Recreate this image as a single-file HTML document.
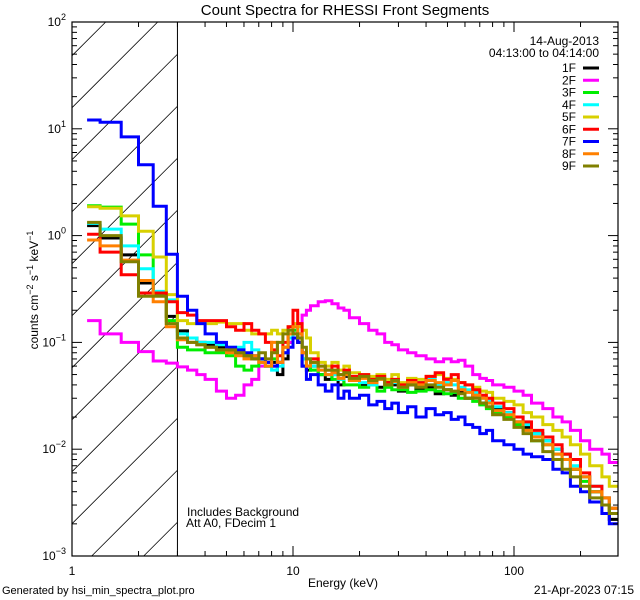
<!DOCTYPE html>
<html><head><meta charset="utf-8"><style>
html,body{margin:0;padding:0;background:#fff;width:640px;height:600px;overflow:hidden}
svg{display:block;font-family:"Liberation Sans",sans-serif}
</style></head><body>
<svg id="chart" width="640" height="600" viewBox="0 0 640 600" overflow="hidden">
<rect width="640" height="600" fill="#fff"/>
<text x="345" y="15" font-size="15" text-anchor="middle">Count Spectra for RHESSI Front Segments</text>
<g id="hatch"></g>
<g id="series"></g>
<g id="axes"></g>
<text transform="translate(38,290) rotate(-90)" font-size="12" text-anchor="middle">counts cm<tspan dy="-5" font-size="9">−2</tspan><tspan dy="5"> s</tspan><tspan dy="-5" font-size="9">−1</tspan><tspan dy="5"> keV</tspan><tspan dy="-5" font-size="9">−1</tspan></text>
<text x="343" y="587" font-size="12" text-anchor="middle">Energy (keV)</text>
<text x="187" y="516" font-size="12">Includes Background</text>
<text x="186" y="527" font-size="12">Att A0, FDecim 1</text>
<text x="2" y="594" font-size="11">Generated by hsi_min_spectra_plot.pro</text>
<text x="634" y="594" font-size="12" text-anchor="end">21-Apr-2023 07:15</text>
<text x="599" y="45" font-size="12" text-anchor="end">14-Aug-2013</text>
<text x="599" y="57" font-size="12" text-anchor="end">04:13:00 to 04:14:00</text>
<g id="legend"></g>
</svg>
<script>
const edges=[1.17,1.34,1.67,2.0,2.33,2.67,3.0,3.33,3.67,4.0,4.5,5.0,5.5,6.0,6.5,7.0,7.5,8.0,8.5,9.0,9.5,10.0,10.5,11,11.5,12,13,14,15,16,17,18,20,22,24,26,28,30,33,36,40,44,48,52,56,60,65,70,75,80,90,100,110,120,135,150,165,180,200,220,250,270,296];
const seriesNames=["1F","2F","3F","4F","5F","6F","7F","8F","9F"];
const seriesColors=["#000000","#ff00ff","#00ee00","#00ffff","#d8d000","#ff0000","#0000ff","#ff8000","#808000"];
const s1F=[1.24,0.95,0.66,0.36,0.29,0.175,0.128,0.11,0.1,0.095,0.09,0.085,0.08,0.075,0.07,0.07,0.06,0.065,0.05,0.07,0.1,0.12,0.1,0.06,0.055,0.06,0.05,0.045,0.05,0.04,0.048,0.045,0.04,0.045,0.038,0.042,0.04,0.035,0.04,0.036,0.038,0.033,0.036,0.032,0.034,0.03,0.032,0.027,0.028,0.024,0.022,0.018,0.016,0.014,0.012,0.01,0.009,0.0065,0.0055,0.004,0.003,0.0022];
const s2F=[0.16,0.12,0.1,0.082,0.067,0.064,0.059,0.055,0.05,0.045,0.035,0.03,0.032,0.04,0.045,0.06,0.065,0.06,0.065,0.08,0.1,0.12,0.15,0.18,0.2,0.22,0.24,0.245,0.23,0.21,0.2,0.17,0.15,0.13,0.12,0.1,0.095,0.085,0.08,0.075,0.07,0.066,0.07,0.066,0.068,0.06,0.05,0.046,0.044,0.04,0.038,0.035,0.032,0.027,0.024,0.02,0.018,0.015,0.012,0.01,0.009,0.0075];
const s3F=[1.9,1.85,1.28,0.66,0.28,0.16,0.09,0.085,0.085,0.08,0.08,0.075,0.06,0.055,0.06,0.065,0.06,0.07,0.065,0.09,0.12,0.13,0.11,0.07,0.06,0.055,0.05,0.05,0.045,0.045,0.04,0.04,0.038,0.04,0.035,0.038,0.036,0.036,0.034,0.035,0.036,0.035,0.033,0.034,0.03,0.03,0.028,0.026,0.024,0.022,0.02,0.017,0.015,0.012,0.011,0.009,0.008,0.0065,0.005,0.004,0.003,0.0025];
const s4F=[1.3,1.15,0.8,0.49,0.3,0.25,0.12,0.11,0.1,0.1,0.095,0.09,0.09,0.1,0.085,0.07,0.06,0.055,0.06,0.08,0.11,0.14,0.12,0.07,0.06,0.06,0.055,0.05,0.05,0.045,0.05,0.045,0.042,0.04,0.045,0.04,0.042,0.038,0.045,0.042,0.045,0.04,0.042,0.04,0.038,0.036,0.034,0.03,0.028,0.025,0.022,0.02,0.017,0.014,0.012,0.01,0.009,0.007,0.0055,0.0045,0.0035,0.0028];
const s5F=[1.86,1.8,1.53,1.1,0.63,0.28,0.16,0.15,0.15,0.15,0.155,0.15,0.15,0.13,0.12,0.12,0.12,0.13,0.12,0.13,0.14,0.15,0.14,0.13,0.11,0.08,0.065,0.06,0.065,0.055,0.06,0.052,0.05,0.048,0.05,0.045,0.05,0.042,0.046,0.045,0.048,0.05,0.046,0.045,0.042,0.04,0.038,0.035,0.034,0.03,0.028,0.026,0.022,0.02,0.017,0.015,0.013,0.011,0.009,0.007,0.0055,0.0045];
const s6F=[1.03,0.7,0.43,0.29,0.29,0.24,0.19,0.18,0.16,0.16,0.16,0.14,0.13,0.15,0.13,0.12,0.1,0.085,0.075,0.1,0.14,0.2,0.15,0.08,0.07,0.07,0.06,0.055,0.06,0.05,0.055,0.048,0.05,0.045,0.048,0.042,0.045,0.04,0.044,0.042,0.048,0.052,0.045,0.05,0.042,0.04,0.036,0.032,0.03,0.027,0.024,0.02,0.018,0.015,0.013,0.011,0.009,0.008,0.006,0.0045,0.0035,0.0028];
const s7F=[12.1,11.5,8.4,4.6,1.88,0.67,0.27,0.2,0.15,0.12,0.1,0.09,0.085,0.08,0.075,0.07,0.065,0.06,0.065,0.08,0.09,0.11,0.1,0.06,0.045,0.05,0.04,0.035,0.04,0.03,0.035,0.03,0.032,0.026,0.028,0.024,0.027,0.022,0.025,0.02,0.024,0.021,0.022,0.019,0.02,0.017,0.016,0.014,0.015,0.012,0.011,0.01,0.009,0.0085,0.008,0.0065,0.006,0.0045,0.004,0.0032,0.0025,0.002];
const s8F=[0.91,0.8,0.59,0.38,0.24,0.14,0.106,0.1,0.095,0.09,0.085,0.08,0.075,0.07,0.075,0.065,0.06,0.1,0.065,0.09,0.12,0.14,0.12,0.08,0.06,0.065,0.055,0.05,0.052,0.046,0.05,0.044,0.046,0.042,0.045,0.04,0.043,0.038,0.042,0.04,0.044,0.042,0.04,0.044,0.036,0.034,0.032,0.03,0.027,0.023,0.021,0.018,0.015,0.013,0.011,0.009,0.008,0.0065,0.0055,0.004,0.0035,0.0028];
const s9F=[1.33,1.0,0.57,0.27,0.27,0.15,0.11,0.1,0.095,0.09,0.085,0.085,0.08,0.075,0.07,0.08,0.07,0.08,0.1,0.12,0.13,0.12,0.11,0.09,0.07,0.065,0.06,0.055,0.055,0.05,0.052,0.046,0.048,0.044,0.046,0.04,0.044,0.038,0.04,0.038,0.04,0.038,0.036,0.035,0.033,0.03,0.03,0.027,0.025,0.021,0.019,0.016,0.014,0.012,0.0095,0.008,0.0065,0.0055,0.0045,0.0035,0.003,0.0025];
const seriesValues=[s1F,s2F,s3F,s4F,s5F,s6F,s7F,s8F,s9F];
const xTickLabels=["1","10","100"];
const yTickLabels=["-3","-2","-1","0","1","2"];

const NS="http://www.w3.org/2000/svg";
const L=72,R=618,T=22,B=556;
const xDec=221, yDec=(B-T)/5;
const X=e=>L+xDec*Math.log10(e);
const Y=v=>B-yDec*(Math.log10(v)+3);
function mk(tag,attrs,parent){const el=document.createElementNS(NS,tag);for(const k in attrs)el.setAttribute(k,attrs[k]);parent.appendChild(el);return el;}

// hatch lines clipped manually to the attenuator region
const hatch=document.getElementById('hatch');
const x3=X(3);
for(let k=-12;k<12;k++){
  const c=471.7+k*52+L; // line: y = c - x
  let xa=L, xb=x3;
  xa=Math.max(xa,c-B); xb=Math.min(xb,c-T);
  if(xb<=xa) continue;
  const hl=mk('line',{x1:xa,y1:c-xa,x2:xb,y2:c-xb,stroke:'#000','stroke-width':0.8},hatch);
  
  
}
const bl=mk('line',{x1:x3,y1:T,x2:x3,y2:B,stroke:'#000','stroke-width':1},hatch);



// series
const sg=document.getElementById('series');
seriesValues.forEach((vals,si)=>{
  let d='';
  vals.forEach((v,i)=>{
    const x1=X(edges[i]),x2=Math.min(X(edges[i+1]),R),y=Math.min(Math.max(Y(v),T),B);
    d+=(i===0?'M':'L')+x1.toFixed(1)+','+y.toFixed(1)+'L'+x2.toFixed(1)+','+y.toFixed(1);
  });
  const p=mk('path',{d:d,fill:'none',stroke:seriesColors[si],'stroke-width':3},sg);
  
  
});

// axes
const ax=document.getElementById('axes');
mk('rect',{x:L,y:T,width:R-L,height:B-T,fill:'none',stroke:'#000','stroke-width':1.2},ax);
for(let dec=0;dec<3;dec++){
  for(let m=1;m<10;m++){
    const e=m*Math.pow(10,dec);
    const x=X(e); if(x>R+0.5) continue;
    const len=m===1?10:5;
    mk('line',{x1:x,y1:B,x2:x,y2:B-len,stroke:'#000'},ax);
    mk('line',{x1:x,y1:T,x2:x,y2:T+len,stroke:'#000'},ax);
  }
}
xTickLabels.forEach((t,i)=>{
  const tl=mk('text',{x:X(Math.pow(10,i)),y:575,'font-size':12,'text-anchor':'middle'},ax);
  tl.textContent=t;
  
  
});
for(let dec=-3;dec<2;dec++){
  for(let m=1;m<10;m++){
    const y=Y(m*Math.pow(10,dec));
    const len=m===1?10:5;
    mk('line',{x1:L,y1:y,x2:L+len,y2:y,stroke:'#000'},ax);
    mk('line',{x1:R,y1:y,x2:R-len,y2:y,stroke:'#000'},ax);
  }
}
yTickLabels.forEach(t=>{
  const y=Y(Math.pow(10,+t));
  const tl=mk('text',{x:66,y:y+4,'font-size':12,'text-anchor':'end'},ax);
  tl.innerHTML='10<tspan dy="-6" font-size="9">'+t.replace('-','−')+'</tspan>';
  
  
});

// legend
const lg=document.getElementById('legend');
seriesNames.forEach((n,i)=>{
  const y=68+i*12.25;
  const t=mk('text',{x:576,y:y+4,'font-size':12,'text-anchor':'end'},lg);
  t.textContent=n;
  
  
  const s=mk('line',{x1:583,y1:y,x2:599,y2:y,stroke:seriesColors[i],'stroke-width':3},lg);
  
  
});
</script>
</body></html>
